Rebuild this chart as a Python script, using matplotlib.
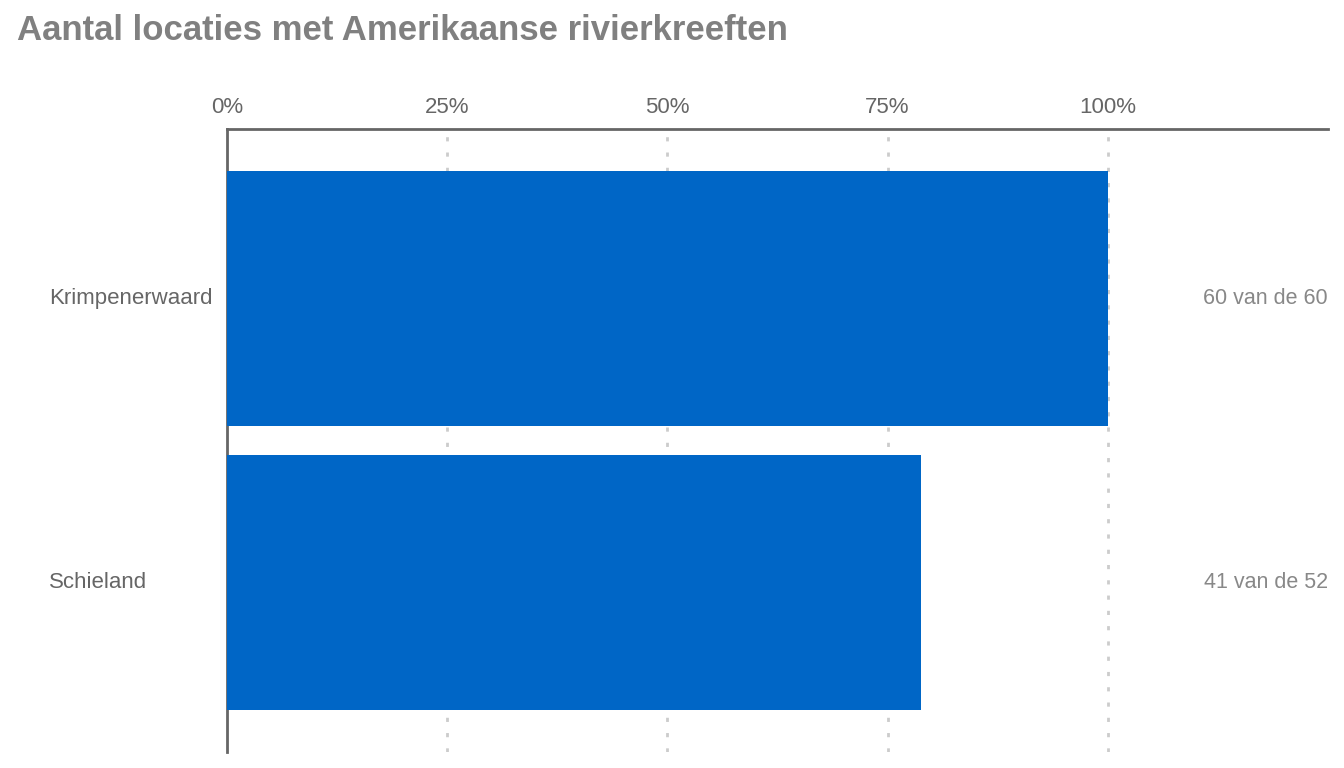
import matplotlib.pyplot as plt
from matplotlib.transforms import blended_transform_factory

plt.rcParams["font.family"] = ["Liberation Sans", "DejaVu Sans"]

regions = ["Krimpenerwaard", "Schieland"]
found = [60, 41]
total = [60, 52]
pct = [f / t * 100 for f, t in zip(found, total)]

BLUE, AXIS, TXT, LABEL = "#0066C6", "#666666", "#666666", "#888888"

fig = plt.figure(figsize=(13.44, 7.68), dpi=100)
ax = fig.add_axes([227 / 1344, 1 - 752 / 768, 1101 / 1344, 623 / 768])

ax.barh(range(len(regions)), pct, height=0.9, color=BLUE, zorder=3)
ax.set_xlim(0, 125)
ax.set_ylim(1.6, -0.6)

ax.set_xticks([0, 25, 50, 75, 100])
ax.set_xticklabels(["0%", "25%", "50%", "75%", "100%"])
ax.xaxis.tick_top()
ax.tick_params(axis="x", length=0, pad=8, labelsize=16, labelcolor=TXT)
ax.set_yticks([])
for x in [25, 50, 75, 100]:
    ax.axvline(x, color="#CCCCCC", linestyle=(0, (1.5, 4)), linewidth=2, zorder=1)

for s in ["right", "bottom"]:
    ax.spines[s].set_visible(False)
for s in ["left", "top"]:
    ax.spines[s].set_color(AXIS)
    ax.spines[s].set_linewidth(2)

left_tr = blended_transform_factory(fig.transFigure, ax.transData)
for i, name in enumerate(regions):
    fig.text(49 / 1344, i, name, fontsize=16, color=TXT, va="center", transform=left_tr)
    ax.text(1.0, i, f"{found[i]} van de {total[i]}", transform=ax.get_yaxis_transform(),
            ha="right", va="center", fontsize=15.5, color=LABEL)

fig.text(17 / 1344, 1 - 30 / 768, "Aantal locaties met Amerikaanse rivierkreeften",
         fontsize=25, fontweight="bold", color="#808080", va="center")

fig.savefig("out.png", dpi=100, facecolor="white")
